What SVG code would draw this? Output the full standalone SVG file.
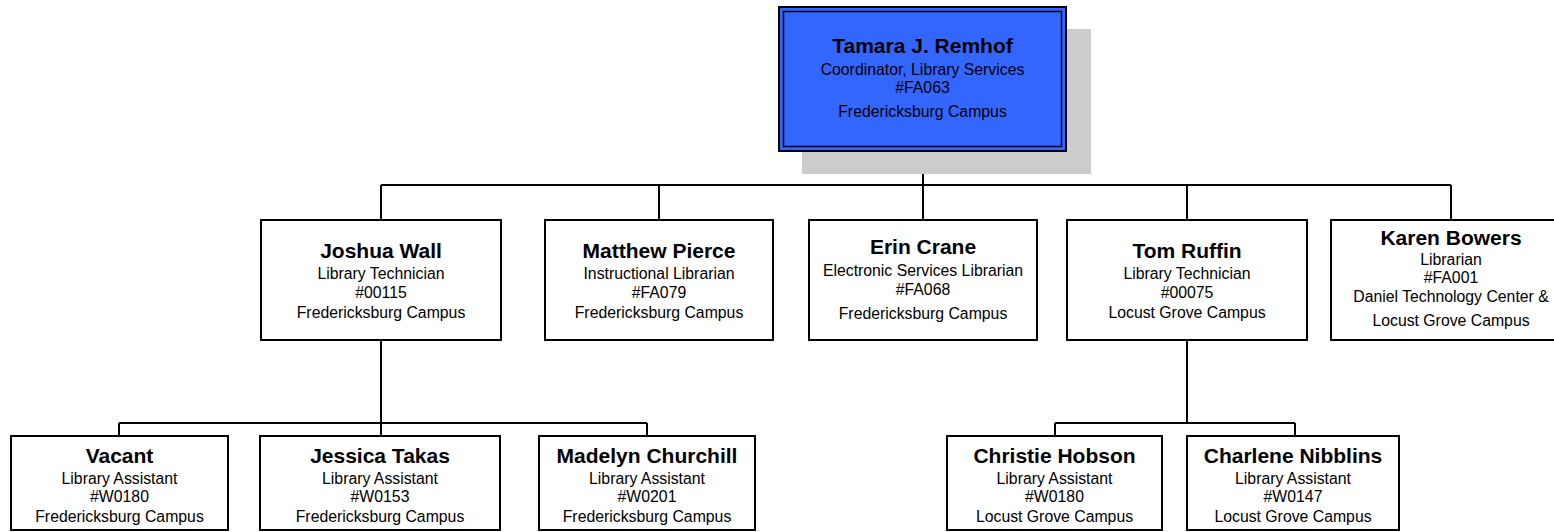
<svg xmlns="http://www.w3.org/2000/svg" width="1554" height="532" viewBox="0 0 1554 532">
<style>
.box{fill:#ffffff;stroke:#000000;stroke-width:2}
.name{font-family:"Liberation Sans",Arial,sans-serif;font-weight:bold;font-size:21px;fill:#000;text-anchor:middle}
.sub{font-family:"Liberation Sans",Arial,sans-serif;font-size:15.8px;fill:#000;text-anchor:middle}
.conn{fill:none;stroke:#000;stroke-width:2}
</style>
<rect width="1554" height="532" fill="#ffffff"/>
<g id="connectors">
<path class="conn" d="M923,151 V185 M381,185 H1451 M381,185 V220 M659,185 V220 M923,185 V220 M1187,185 V220 M1451,185 V220"/>
<path class="conn" d="M381,340 V436 M119,423 H647 M119,423 V436 M647,423 V436"/>
<path class="conn" d="M1187,340 V423 M1055,423 H1295 M1055,423 V436 M1295,423 V436"/>
</g>
<g id="node-tamara">
<rect x="802" y="29" width="289" height="145" fill="#cccccc"/>
<rect x="779" y="7" width="287" height="144" fill="#3366ff" stroke="#000" stroke-width="2"/>
<rect x="783.5" y="11.5" width="278" height="135" fill="none" stroke="#000" stroke-width="1.5"/>
<text class="name" x="922.5" y="53">Tamara J. Remhof</text>
<text class="sub" x="922.5" y="75">Coordinator, Library Services</text>
<text class="sub" x="922.5" y="93">#FA063</text>
<text class="sub" x="922.5" y="117">Fredericksburg Campus</text>
</g>
<g id="node-joshua">
<rect class="box" x="261" y="220" width="240" height="120"/>
<text class="name" x="381" y="258">Joshua Wall</text>
<text class="sub" x="381" y="279">Library Technician</text>
<text class="sub" x="381" y="298">#00115</text>
<text class="sub" x="381" y="318">Fredericksburg Campus</text>
</g>
<g id="node-matthew">
<rect class="box" x="545" y="220" width="228" height="120"/>
<text class="name" x="659" y="258">Matthew Pierce</text>
<text class="sub" x="659" y="279">Instructional Librarian</text>
<text class="sub" x="659" y="298">#FA079</text>
<text class="sub" x="659" y="318">Fredericksburg Campus</text>
</g>
<g id="node-erin">
<rect class="box" x="809" y="220" width="228" height="120"/>
<text class="name" x="923" y="254">Erin Crane</text>
<text class="sub" x="923" y="276">Electronic Services Librarian</text>
<text class="sub" x="923" y="295">#FA068</text>
<text class="sub" x="923" y="319">Fredericksburg Campus</text>
</g>
<g id="node-tom">
<rect class="box" x="1067" y="220" width="240" height="120"/>
<text class="name" x="1187" y="258">Tom Ruffin</text>
<text class="sub" x="1187" y="279">Library Technician</text>
<text class="sub" x="1187" y="298">#00075</text>
<text class="sub" x="1187" y="318">Locust Grove Campus</text>
</g>
<g id="node-karen">
<rect class="box" x="1331" y="220" width="240" height="120"/>
<text class="name" x="1451" y="245">Karen Bowers</text>
<text class="sub" x="1451" y="265">Librarian</text>
<text class="sub" x="1451" y="283">#FA001</text>
<text class="sub" x="1451" y="302">Daniel Technology Center &amp;</text>
<text class="sub" x="1451" y="326">Locust Grove Campus</text>
</g>
<g id="node-vacant">
<rect class="box" x="11" y="436" width="217" height="94"/>
<text class="name" x="119.5" y="463">Vacant</text>
<text class="sub" x="119.5" y="484">Library Assistant</text>
<text class="sub" x="119.5" y="502">#W0180</text>
<text class="sub" x="119.5" y="522">Fredericksburg Campus</text>
</g>
<g id="node-jessica">
<rect class="box" x="260" y="436" width="240" height="94"/>
<text class="name" x="380" y="463">Jessica Takas</text>
<text class="sub" x="380" y="484">Library Assistant</text>
<text class="sub" x="380" y="502">#W0153</text>
<text class="sub" x="380" y="522">Fredericksburg Campus</text>
</g>
<g id="node-madelyn">
<rect class="box" x="539" y="436" width="216" height="94"/>
<text class="name" x="647" y="463">Madelyn Churchill</text>
<text class="sub" x="647" y="484">Library Assistant</text>
<text class="sub" x="647" y="502">#W0201</text>
<text class="sub" x="647" y="522">Fredericksburg Campus</text>
</g>
<g id="node-christie">
<rect class="box" x="947" y="436" width="215" height="94"/>
<text class="name" x="1054.5" y="463">Christie Hobson</text>
<text class="sub" x="1054.5" y="484">Library Assistant</text>
<text class="sub" x="1054.5" y="502">#W0180</text>
<text class="sub" x="1054.5" y="522">Locust Grove Campus</text>
</g>
<g id="node-charlene">
<rect class="box" x="1187" y="436" width="212" height="94"/>
<text class="name" x="1293" y="463">Charlene Nibblins</text>
<text class="sub" x="1293" y="484">Library Assistant</text>
<text class="sub" x="1293" y="502">#W0147</text>
<text class="sub" x="1293" y="522">Locust Grove Campus</text>
</g>
</svg>
